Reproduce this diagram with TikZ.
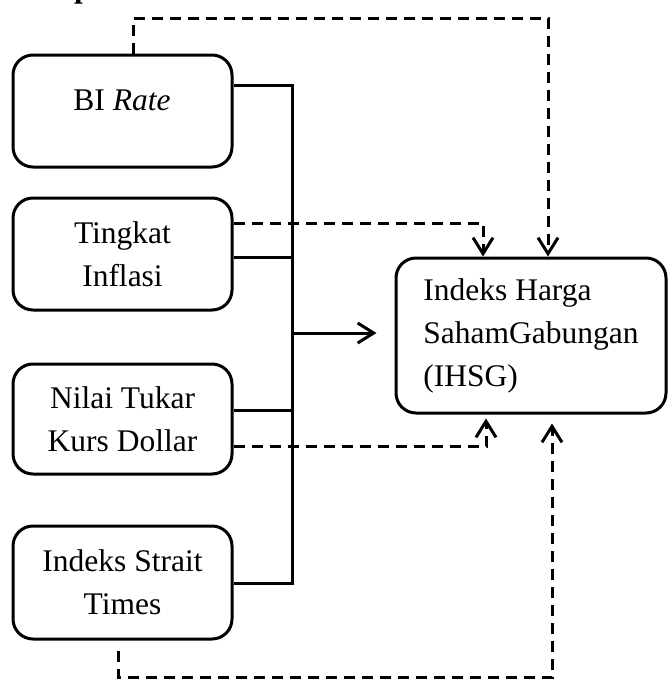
\documentclass[tikz,border=0pt]{standalone}
\usepackage{fontspec}
\setmainfont{Liberation Serif}
\usetikzlibrary{arrows.meta}
\begin{document}
\begin{tikzpicture}[x=1pt,y=-1pt,
  every node/.style={font=\fontsize{31.5}{43}\selectfont},
  box/.style={draw, line width=3pt, rounded corners=20pt, minimum width=219pt, inner sep=0pt, align=center},
  sline/.style={line width=3pt},
  dline/.style={line width=3pt, dash pattern=on 11pt off 7pt},
  tip/.style={-{Straight Barb[length=16pt,width=20pt]}}
]
\useasboundingbox (0,0) rectangle (668,680);
% clipped heading fragment
\node[anchor=base west, inner sep=0pt, font=\bfseries\fontsize{31.5}{38}\selectfont] (head) at (74,-2) {p};

\node[box, minimum height=112pt] (bi) at (122.5,111) {};
\node[inner sep=0pt] (bitext) at (122,100) {BI \textit{Rate}};
\node[box, minimum height=112pt] (inf) at (122.5,254) {Tingkat\\Inflasi};
\node[box, minimum height=110pt] (nil) at (122.5,419) {Nilai Tukar\\Kurs Dollar};
\node[box, minimum height=113pt] (sti) at (122.5,582.5) {Indeks Strait\\Times};
\node[box, minimum width=270pt, minimum height=155pt, align=left] (ihsg) at (531,335.5) {Indeks Harga\\SahamGabungan\\(IHSG)};

% solid bus
\coordinate (bt) at (292,85);
\coordinate (bb) at (292,583);
\draw[sline] (bi.east |- bt) -- (bt) -- (bb) -- (sti.east |- bb);
\draw[sline] (inf.east |- 0,257) -- (292,257);
\draw[sline] (nil.east |- 0,410) -- (292,410);
\draw[sline, tip, shorten >=18pt] (292,333) -- (ihsg.west |- 0,333);

% dashed links
\draw[dline, tip] (133,0 |- bi.north) -- (133,18) -- (548,18) -- (548,0 |- ihsg.north);
\draw[dline, tip] (inf.east |- 0,223) -- (483,223) -- (483,0 |- ihsg.north);
\draw[dline, tip, shorten >=4pt] (nil.east |- 0,446) -- (486,446) -- (486,0 |- ihsg.south);
\draw[dline, tip, shorten <=10pt, shorten >=9pt] (118,0 |- sti.south) -- (118,677) -- (552,677) -- (552,0 |- ihsg.south);
\end{tikzpicture}
\end{document}
